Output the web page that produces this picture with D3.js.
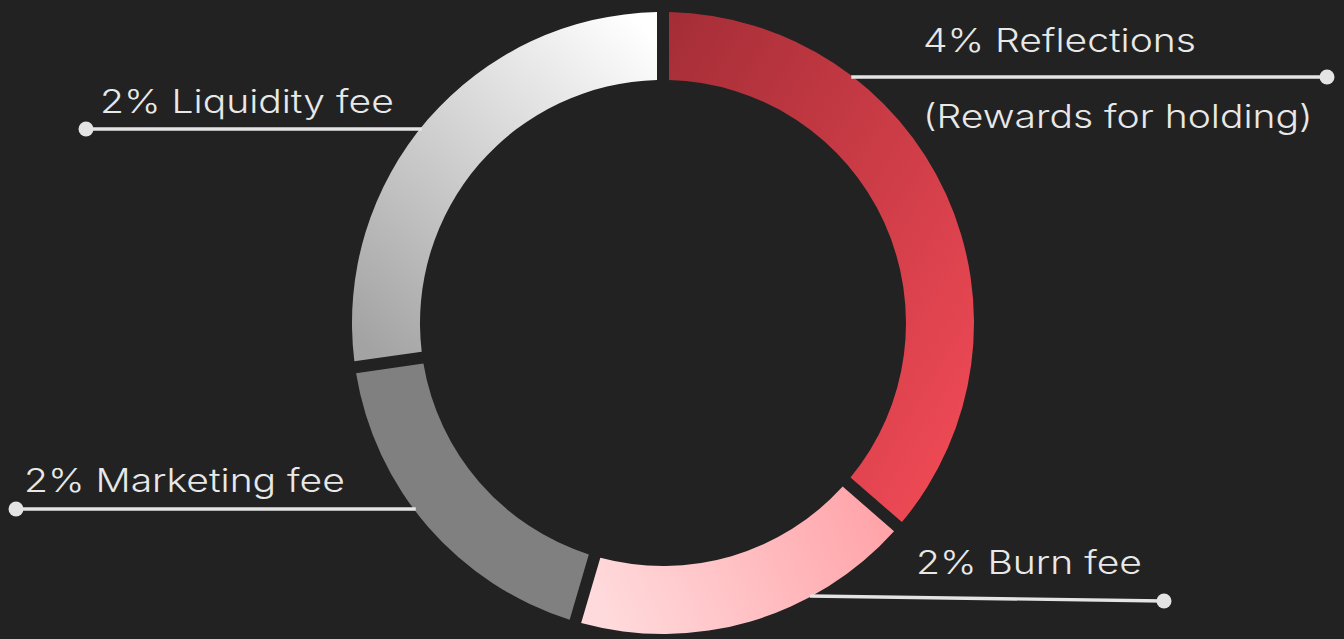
<!DOCTYPE html>
<html><head><meta charset="utf-8">
<script src="https://cdn.jsdelivr.net/npm/d3@7"></script>
<style>html,body{margin:0;padding:0;background:#222222;overflow:hidden}</style>
</head><body><svg id="chart" width="1344" height="639"></svg>
<script>
// ---- data ----
const categories = ["Reflections", "Burn fee", "Marketing fee", "Liquidity fee"];
const arcValues = [4, 2, 2, 3];
const labelTexts = [["4% Reflections", "(Rewards for holding)"], ["2% Burn fee"], ["2% Marketing fee"], ["2% Liquidity fee"]];
const gradStops = [["#a42d36", "#f54c58"], ["#ffdadc", "#ffa3a8"], ["#808080", "#808080"], ["#ffffff", "#a3a3a3"]];

// ---- layout ----
const W = 1344, H = 639, cx = 663, cy = 323, R = 311, r = 243;
const svg = d3.select("#chart");
svg.append("rect").attr("width", W).attr("height", H).attr("fill", "#222222");

const defs = svg.append("defs");
const gradDir = [[0, 0, 1, 1], [0, 0.5, 1, 0.3], [0, 0, 0, 1], [0.9, 0, 0.1, 1]];
categories.forEach((c, i) => {
  const g = defs.append("linearGradient").attr("id", "g" + i)
    .attr("x1", gradDir[i][0]).attr("y1", gradDir[i][1]).attr("x2", gradDir[i][2]).attr("y2", gradDir[i][3]);
  g.append("stop").attr("offset", 0).attr("stop-color", gradStops[i][0]);
  g.append("stop").attr("offset", 1).attr("stop-color", gradStops[i][1]);
});

const pie = d3.pie().sort(null).value(d => d)(arcValues);
const arc = d3.arc().innerRadius(r).outerRadius(R).padAngle(0.04).padRadius(300);
const gArcs = svg.append("g").attr("transform", `translate(${cx},${cy})`);
gArcs.selectAll("path").data(pie).join("path")
  .attr("d", arc).attr("fill", (d, i) => `url(#g${i})`);

// leaders: start y on the outer edge (relative to centre), side, end point
const leaders = [
  {sy: -246, side: 1, ex: 1327, ey: 77, tx: 923, ty: [52, 128]},
  {sy: 273, side: 1, ex: 1164, ey: 601, tx: 916, ty: [574]},
  {sy: 186, side: -1, ex: 16, ey: 509, tx: 24, ty: [492]},
  {sy: -194, side: -1, ex: 86, ey: 129, tx: 100, ty: [113]}
];
const gl = svg.append("g");
leaders.forEach((L, i) => {
  const sx = cx + L.side * Math.sqrt(R * R - L.sy * L.sy) - L.side * 2;
  gl.append("line").attr("x1", sx).attr("y1", cy + L.sy).attr("x2", L.ex).attr("y2", L.ey)
    .attr("stroke", "#e4e4e4").attr("stroke-width", 3.4);
  gl.append("circle").attr("cx", L.ex).attr("cy", L.ey).attr("r", 7.5).attr("fill", "#e4e4e4");
  labelTexts[i].forEach((t, j) => {
    gl.append("text").attr("transform", `translate(${L.tx},${L.ty[j]}) scale(1.22,1)`).text(t)
      .attr("fill", "#e8e8e8").attr("font-family", "Inter, 'Open Sans', sans-serif")
      .attr("font-weight", 300).attr("font-size", 32);
  });
});
</script></body></html>
